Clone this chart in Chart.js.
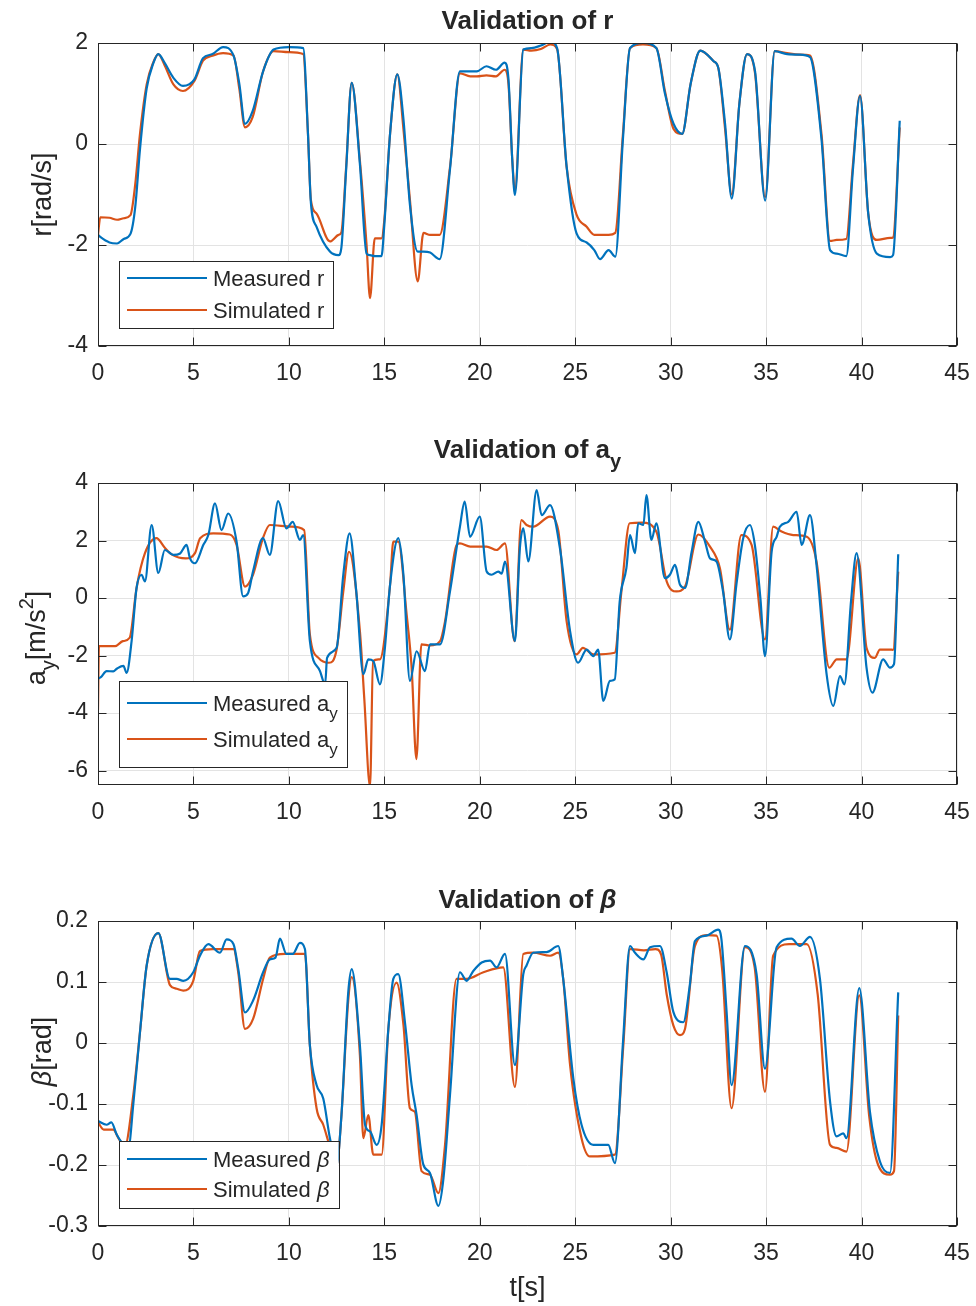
<!DOCTYPE html>
<html>
<head>
<meta charset="utf-8">
<script src="https://cdn.jsdelivr.net/npm/chart.js@4.4.1/dist/chart.umd.min.js"></script>
<style>
  html, body { margin: 0; padding: 0; background: #fff; }
  body { width: 976px; height: 1306px; position: relative; overflow: hidden; }
  canvas { position: absolute; left: 0; }
</style>
</head>
<body>
<canvas id="c1" width="976" height="400" style="top:0px"></canvas>
<canvas id="c2" width="976" height="440" style="top:400px"></canvas>
<canvas id="c3" width="976" height="466" style="top:840px"></canvas>
<script>
// ---- data ----
const xTicks = [0, 5, 10, 15, 20, 25, 30, 35, 40, 45];

// yaw rate r
const tR = [0, 0.12, 0.6, 1.0, 1.35, 1.7, 1.95, 2.2, 2.55, 2.9, 3.16, 3.5,
  3.95, 4.45, 5.05, 5.5, 6.0, 6.55, 7.1, 7.4, 7.7, 8.1, 8.65, 9.2,
  10.0, 10.75, 11.0, 11.15, 11.45, 12.15, 12.6, 12.75, 13.0, 13.29, 13.72, 14.07,
  14.25, 14.5, 14.85, 15.0, 15.3, 15.68, 16.0, 16.34, 16.75, 17.05, 17.4, 17.9, 18.44,
  18.96, 19.5, 19.85, 20.35, 20.85, 21.3, 21.5, 21.7, 21.84, 22.28, 22.7, 23.2, 23.7,
  24.05, 24.55, 25.07, 25.6, 26.0, 26.3, 26.75, 27.1, 27.5, 27.87, 28.55, 29.25, 29.7,
  30.15, 30.6, 31.05, 31.55, 32.25, 32.5, 32.85, 33.2, 33.6, 34.0, 34.42, 34.95,
  35.45, 36.1, 36.75, 37.3, 37.9, 38.35, 38.7, 39.2, 39.55, 39.92, 40.35, 40.8,
  41.5, 41.65, 42.0];
const rMeas = [-1.8, -1.84, -1.95, -1.97, -1.88, -1.78, -1.25, -0.1, 1.1, 1.6, 1.78, 1.6,
  1.31, 1.15, 1.28, 1.7, 1.78, 1.92, 1.75, 1.2, 0.4, 0.65, 1.44, 1.87,
  1.92, 1.9, 0.2, -1.15, -1.64, -2.13, -2.2, -2.05, -0.5, 1.21, -0.4, -2.17,
  -2.2, -2.22, -2.22, -1.6, 0.2, 1.38, 0.5, -1.2, -2.13, -2.13, -2.15, -2.28, -0.5,
  1.44, 1.44, 1.44, 1.54, 1.47, 1.61, 1.3, -0.3, -1.01, 1.87, 1.9, 1.95, 2.03,
  1.9, -0.45, -1.77, -1.95, -2.1, -2.28, -2.1, -2.23, 0.1, 1.9, 2.0, 1.9, 1.0,
  0.4, 0.2, 1.2, 1.85, 1.64, 1.5, 0.4, -1.08, 0.8, 1.78, 1.44, -1.12,
  1.84, 1.78, 1.77, 1.72, 0.1, -2.1, -2.17, -2.22, -0.5, 0.95, -1.38, -2.17,
  -2.24, -2.2, 0.46];
const rSim = [-1.8, -1.45, -1.46, -1.5, -1.47, -1.41, -0.8, 0.2, 1.18, 1.62, 1.78, 1.55,
  1.18, 1.05, 1.25, 1.65, 1.75, 1.8, 1.75, 1.1, 0.33, 0.53, 1.44, 1.84,
  1.82, 1.78, 0.2, -1.1, -1.38, -1.93, -1.8, -1.75, -0.45, 1.21, -0.33, -2.0,
  -3.05, -1.87, -1.87, -1.5, 0.2, 1.38, 0.3, -1.1, -2.72, -1.76, -1.8, -1.8, -0.46,
  1.4, 1.34, 1.34, 1.36, 1.34, 1.47, 1.2, -0.3, -0.92, 1.87, 1.85, 1.88, 1.97,
  1.88, -0.46, -1.4, -1.64, -1.8, -1.8, -1.8, -1.76, 0.2, 1.9, 1.97, 1.9, 1.05,
  0.3, 0.2, 1.2, 1.85, 1.64, 1.5, 0.3, -1.0, 0.8, 1.78, 1.4, -1.05,
  1.84, 1.8, 1.77, 1.75, 0.2, -1.92, -1.9, -1.88, -0.4, 0.97, -1.38, -1.9,
  -1.86, -1.85, 0.33];
const rTicks = [-4, -2, 0, 2];

// lateral acceleration a_y
const tAyMeas = [0, 0.15, 0.45, 0.8, 1.0, 1.33, 1.5, 1.76, 2.02, 2.28, 2.46, 2.81, 3.16, 3.5,
  3.95, 4.3, 4.64, 4.82, 5.08, 5.52, 5.78, 6.13, 6.47, 6.82, 7.26, 7.6, 7.86, 8.12,
  8.64, 9.0, 9.44, 9.87, 10.2, 10.58, 10.75, 11.1, 11.63, 11.9, 12.0, 12.5, 12.85,
  13.18, 13.53, 13.9, 14.16, 14.42, 14.77, 15.03, 15.3, 15.73, 16.0, 16.34, 16.69,
  17.13, 17.39, 17.92, 18.44, 18.96, 19.21, 19.49, 20.0, 20.36, 20.62, 20.97, 21.15,
  21.32, 21.84, 22.1, 22.28, 22.54, 22.98, 23.24, 23.68, 24.2, 24.73, 25.15, 25.6,
  25.95, 26.2, 26.47, 26.82, 27.07, 27.33, 27.68, 27.87, 28.13, 28.3, 28.57, 28.73,
  28.99, 29.25, 29.7, 29.96, 30.23, 30.49, 30.75, 31.1, 31.45, 31.8, 32.06, 32.4,
  32.75, 33.1, 33.45, 33.8, 34.15, 34.41, 34.7, 34.94, 35.29, 35.55, 35.72, 36.16,
  36.6, 36.86, 37.3, 37.64, 38.17, 38.52, 38.87, 39.1, 39.45, 39.74, 40.26, 40.57,
  41.13, 41.49, 41.7, 41.92];
const ayMeas = [-2.8, -2.75, -2.54, -2.55, -2.45, -2.36, -2.6, -1.5, 0.35, 0.81, 0.58, 2.54, 0.87, 1.67,
  1.5, 1.55, 1.85, 1.38, 1.21, 1.85, 2.19, 3.29, 2.36, 2.94, 1.96, 0.06, 0.17, 0.92,
  2.08, 1.5, 3.37, 2.42, 2.65, 2.02, 2.19, -1.5, -2.54, -3.0, -2.08, -1.73, 0.81,
  2.25, 0.23, -2.65, -2.13, -2.19, -3.0, -1.73, 0.46, 2.08, 0.81, -2.88, -1.85,
  -2.54, -1.61, -1.61, 0.23, 2.48, 3.35, 2.13, 2.83, 0.92, 0.81, 0.92, 0.85,
  1.27, -1.5, 1.73, 2.42, 1.27, 3.75, 2.88, 3.23, 1.73, -1.15, -2.25, -1.79,
  -2.02, -1.79, -3.58, -2.88, -2.83, -0.12, 1.04, 2.19, 1.56, 2.6, 2.54, 3.58,
  2.02, 2.6, 0.69, 0.81, 1.15, 0.46, 0.35, 1.61, 2.65, 1.96, 1.38, 1.27,
  0.2, -1.44, 0.5, 2.08, 2.54, 1.85, 0.0, -2.02, 1.61, 2.13, 2.48, 2.65,
  3.0, 1.85, 2.88, 1.15, -2.65, -3.75, -2.71, -3.0, -0.1, 1.56, -2.42, -3.29,
  -2.13, -2.42, -2.3, 1.52];
const tAySim = [0, 0.05, 0.9, 1.3, 1.66, 2.02, 2.46, 3.06, 3.5, 3.9, 4.6, 5.08, 5.35, 6.04,
  6.9, 7.26, 7.7, 8.12, 8.64, 9.0, 10.13, 10.8, 11.1, 11.55, 12.1, 12.5, 12.85, 13.15,
  13.72, 13.95, 14.25, 14.41, 14.77, 15.3, 15.47, 15.73, 16.17, 16.43, 16.68, 16.94,
  17.4, 17.92, 18.18, 18.79, 18.96, 19.5, 20.36, 20.88, 21.32, 21.82, 22.18, 22.45,
  22.8, 23.68, 24.11, 24.55, 25.07, 25.4, 25.95, 27.07, 27.42, 27.85, 28.5, 29.25,
  29.79, 30.31, 30.75, 31.45, 32.06, 32.58, 33.1, 33.7, 34.24, 34.94, 35.37, 35.81,
  36.42, 37.13, 37.64, 38.31, 38.7, 39.21, 39.83, 40.26, 40.7, 40.96, 41.49, 41.65, 41.92];
const aySim = [-3.9, -1.67, -1.67, -1.5, -1.38, 0.35, 1.56, 2.08, 1.75, 1.5, 1.38, 1.56, 2.08, 2.25,
  2.21, 1.85, 0.4, 0.81, 2.08, 2.54, 2.48, 2.36, -1.27, -2.08, -2.25, -1.79, 0.23, 1.61,
  -1.15, -3.5, -6.55, -2.19, -2.13, 0.46, 1.96, 1.96, -0.58, -2.42, -5.6, -1.61,
  -1.65, -1.5, -0.81, 1.85, 1.9, 1.79, 1.79, 1.67, 1.9, -1.5, 2.71, 2.54,
  2.48, 2.83, 2.36, -0.81, -1.96, -1.73, -1.96, -1.9, 0.23, 2.6, 2.62, 2.31,
  0.58, 0.23, 0.4, 2.21, 1.79, 1.04, -1.1, 2.19, 1.85, -1.44, 2.48, 2.31,
  2.19, 2.13, 1.27, -2.42, -2.13, -2.13, 1.38, -1.73, -2.08, -1.79, -1.79, -1.8, 0.92];
const ayTicks = [-6, -4, -2, 0, 2, 4];

// side slip angle beta
const tBetaMeas = [0, 0.45, 0.7, 0.98, 1.3, 1.6, 1.85, 2.2, 2.55, 3.16, 3.77, 4.12, 4.47,
  4.99, 5.34, 5.78, 6.39, 6.74, 7.1, 7.35, 7.7, 8.13, 8.65, 9.0, 9.3, 9.53, 9.87,
  10.2, 10.58, 10.84, 11.1, 11.45, 11.8, 12.15, 12.5, 12.75, 13.11, 13.29, 13.72,
  13.99, 14.25, 14.6, 14.86, 15.21, 15.47, 15.73, 16.08, 16.43, 16.69, 17.04, 17.39,
  17.83, 18.1, 18.44, 18.96, 19.31, 19.66, 20.1, 20.54, 20.88, 21.32, 21.84, 22.28,
  22.45, 22.8, 23.5, 24.11, 24.37, 24.9, 25.33, 25.95, 26.73, 27.08, 27.5, 27.87,
  28.13, 28.57, 28.92, 29.44, 29.79, 30.14, 30.66, 31.0, 31.27, 31.88, 32.49, 32.66,
  32.93, 33.19, 33.89, 34.5, 34.94, 35.55, 36.33, 36.77, 37.3, 37.82, 38.35, 38.69,
  39.04, 39.21, 39.88, 40.44, 40.96, 41.49, 41.92];
const betaMeas = [-0.128, -0.134, -0.13, -0.15, -0.165, -0.17, -0.1, 0.018, 0.127, 0.18, 0.105, 0.105, 0.102,
  0.116, 0.143, 0.162, 0.148, 0.17, 0.162, 0.121, 0.05, 0.07, 0.116, 0.137, 0.14, 0.171, 0.146,
  0.146, 0.164, 0.154, -0.004, -0.069, -0.091, -0.156, -0.2, -0.12, 0.083, 0.121, -0.004,
  -0.134, -0.145, -0.167, -0.134, 0.023, 0.105, 0.113, 0.034, -0.069, -0.118, -0.199, -0.213,
  -0.267, -0.221, -0.085, 0.116, 0.102, 0.118, 0.132, 0.135, 0.124, 0.146, -0.036, 0.113,
  0.127, 0.148, 0.149, 0.159, 0.105, -0.058, -0.134, -0.167, -0.167, -0.197, 0.0, 0.159,
  0.148, 0.137, 0.157, 0.159, 0.116, 0.051, 0.034, 0.094, 0.167, 0.176, 0.186, 0.17,
  0.051, -0.069, 0.159, 0.113, -0.042, 0.157, 0.171, 0.159, 0.174, 0.105, -0.096, -0.153,
  -0.148, -0.156, 0.09, -0.113, -0.194, -0.213, 0.083];
const tBetaSim = [0, 0.3, 0.8, 1.07, 1.4, 1.85, 2.2, 2.55, 3.16, 3.77, 4.12, 4.47, 4.99,
  5.34, 6.0, 7.1, 7.35, 7.7, 8.13, 8.65, 9.0, 9.8, 10.84, 11.1, 11.45, 11.8, 12.15,
  12.5, 12.75, 13.11, 13.29, 13.72, 13.9, 14.16, 14.42, 14.86, 15.21, 15.64, 16.0,
  16.34, 16.6, 16.95, 17.39, 17.83, 18.18, 18.78, 19.31, 20.19, 21.23, 21.84, 22.28,
  22.8, 23.68, 24.11, 24.37, 24.73, 25.33, 25.77, 27.08, 27.52, 27.87, 28.6, 29.2,
  29.5, 29.79, 30.14, 30.49, 30.75, 31.27, 31.88, 32.4, 32.7, 33.19, 33.89, 34.4,
  34.94, 35.37, 36.2, 37.13, 37.7, 38.35, 38.69, 39.21, 39.88, 40.4, 40.87, 41.49,
  41.7, 41.92];
const betaSim = [-0.13, -0.142, -0.142, -0.156, -0.17, -0.085, 0.018, 0.127, 0.18, 0.095, 0.089, 0.086, 0.102,
  0.151, 0.154, 0.154, 0.115, 0.023, 0.04, 0.105, 0.14, 0.146, 0.146, -0.004, -0.107, -0.134, -0.17,
  -0.2, -0.12, 0.07, 0.108, -0.02, -0.156, -0.118, -0.183, -0.183, 0.023, 0.099, 0.03,
  -0.107, -0.113, -0.21, -0.216, -0.246, -0.167, 0.105, 0.105, 0.116, 0.124, -0.072, 0.146,
  0.148, 0.143, 0.148, 0.105, -0.036, -0.156, -0.186, -0.183, -0.004, 0.154, 0.152, 0.154,
  0.145, 0.08, 0.029, 0.013, 0.023, 0.159, 0.177, 0.176, 0.12, -0.107, 0.157, 0.124,
  -0.08, 0.143, 0.162, 0.162, 0.08, -0.167, -0.172, -0.178, 0.078, -0.12, -0.2, -0.216,
  -0.21, 0.045];
const betaTicks = [-0.3, -0.2, -0.1, 0, 0.1, 0.2];

// ---- styling ----
const FONT = '"Liberation Sans", Arial, Helvetica, sans-serif';
const BLUE = '#0072BD';
const ORANGE = '#D95319';
const INK = '#262626';
const TICK_SIZE = 23, TITLE_SIZE = 26, LABEL_SIZE = 27, LEGEND_SIZE = 22;

const pts = (ts, ys) => ts.map((t, i) => ({ x: t, y: ys[i] }));

// draw a run of text pieces: [text, kind], kind = '' | 'sub' | 'sup' | 'it'
function drawRich(ctx, segs, x, y, size, bold, align, color) {
  const parts = segs.map(([s, k]) => {
    const small = k === 'sub' || k === 'sup';
    const fs = small ? Math.round(size * 0.75) : size;
    const font = (k === 'it' ? 'italic ' : '') + (bold ? 'bold ' : '') + fs + 'px ' + FONT;
    ctx.font = font;
    return { s, k, font, w: ctx.measureText(s).width };
  });
  const total = parts.reduce((a, p) => a + p.w, 0);
  let cx = align === 'center' ? x - total / 2 : x;
  ctx.textAlign = 'left';
  ctx.textBaseline = 'alphabetic';
  ctx.fillStyle = color || INK;
  for (const p of parts) {
    ctx.font = p.font;
    const dy = p.k === 'sub' ? size * 0.38 : p.k === 'sup' ? -size * 0.45 : 0;
    ctx.fillText(p.s, cx, y + dy);
    cx += p.w;
  }
  return total;
}

function richWidth(ctx, segs, size) {
  return segs.reduce((w, [s, k]) => {
    const fs = (k === 'sub' || k === 'sup') ? Math.round(size * 0.75) : size;
    ctx.font = (k === 'it' ? 'italic ' : '') + fs + 'px ' + FONT;
    return w + ctx.measureText(s).width;
  }, 0);
}

const frame = {
  id: 'frame',
  afterDatasetsDraw(chart, args, o) {
    const { ctx, chartArea: a, scales } = chart;
    ctx.save();
    ctx.strokeStyle = INK;
    ctx.lineWidth = 1;
    const L = Math.round(a.left) + 0.5, R = Math.round(a.right) - 0.5;
    const T = Math.round(a.top) + 0.5, B = Math.round(a.bottom) - 0.5;
    ctx.beginPath();
    scales.x.ticks.forEach(t => {
      const px = Math.round(scales.x.getPixelForValue(t.value)) + 0.5;
      ctx.moveTo(px, B); ctx.lineTo(px, B - 8);
      ctx.moveTo(px, T); ctx.lineTo(px, T + 8);
    });
    scales.y.ticks.forEach(t => {
      const py = Math.round(scales.y.getPixelForValue(t.value)) + 0.5;
      ctx.moveTo(L, py); ctx.lineTo(L + 8, py);
      ctx.moveTo(R, py); ctx.lineTo(R - 8, py);
    });
    ctx.stroke();
    ctx.strokeRect(L, T, R - L, B - T);

    // legend box
    const lg = o.legend;
    const bx = a.left + 21, by = a.bottom - 18 - lg.h;
    const tx = bx + 94;
    const maxW = Math.max(...lg.items.map(it => richWidth(ctx, it.segs, LEGEND_SIZE)));
    const bw = tx + maxW + 9 - bx;
    ctx.fillStyle = '#fff';
    ctx.fillRect(bx, by, bw, lg.h);
    ctx.strokeRect(Math.round(bx) + 0.5, Math.round(by) + 0.5, Math.round(bw), Math.round(lg.h));
    lg.items.forEach((it, i) => {
      const ry = by + lg.rows[i];
      ctx.strokeStyle = it.color;
      ctx.lineWidth = 2;
      ctx.beginPath();
      ctx.moveTo(bx + 8, ry); ctx.lineTo(bx + 88, ry);
      ctx.stroke();
      drawRich(ctx, it.segs, tx, ry + 8, LEGEND_SIZE, false, 'left');
    });

    // title
    drawRich(ctx, o.title, (a.left + a.right) / 2, a.top - o.titleGap, TITLE_SIZE, true, 'center');
    // y label
    ctx.save();
    ctx.translate(o.yLabelX, (a.top + a.bottom) / 2 + (o.yLabelDy || 0));
    ctx.rotate(-Math.PI / 2);
    drawRich(ctx, o.yLabel, 0, 0, LABEL_SIZE, false, 'center');
    ctx.restore();
    // x label
    if (o.xLabel) drawRich(ctx, o.xLabel, (a.left + a.right) / 2, a.bottom + o.xLabelGap, LABEL_SIZE, false, 'center');
    ctx.restore();
  }
};

function makeChart(id, cfg) {
  return new Chart(document.getElementById(id), {
    type: 'line',
    data: {
      datasets: [
        { label: 'Measured', data: cfg.meas, borderColor: BLUE },
        { label: 'Simulated', data: cfg.sim, borderColor: ORANGE }
      ]
    },
    options: {
      responsive: false,
      animation: false,
      events: [],
      layout: { padding: { top: cfg.padTop, right: 19, left: 0, bottom: 0 } },
      elements: {
        line: { borderWidth: 2.2, cubicInterpolationMode: 'monotone', fill: false },
        point: { radius: 0 }
      },
      scales: {
        x: {
          type: 'linear', min: 0, max: 45,
          afterBuildTicks: s => { s.ticks = xTicks.map(v => ({ value: v })); },
          afterFit: s => { s.height = cfg.xAxisH; s.paddingLeft = 0; s.paddingRight = 0; },
          grid: { color: '#e3e3e3', drawTicks: false },
          border: { display: false },
          ticks: { color: INK, font: { family: FONT, size: TICK_SIZE }, padding: 14, maxRotation: 0, autoSkip: false }
        },
        y: {
          type: 'linear', min: cfg.yMin, max: cfg.yMax,
          afterBuildTicks: s => { s.ticks = cfg.yTicks.map(v => ({ value: v })); },
          afterFit: s => { s.width = 98; s.paddingTop = 0; s.paddingBottom = 0; },
          grid: { color: '#e3e3e3', drawTicks: false },
          border: { display: false },
          ticks: {
            color: INK, font: { family: FONT, size: TICK_SIZE }, padding: 10, autoSkip: false,
            callback: v => String(Math.round(v * 10) / 10)
          }
        }
      },
      plugins: {
        legend: { display: false },
        tooltip: { enabled: false },
        frame: cfg.frame
      }
    },
    plugins: [frame]
  });
}

makeChart('c1', {
  meas: pts(tR, rMeas), sim: pts(tR, rSim),
  yMin: -4, yMax: 2, yTicks: rTicks, padTop: 43, xAxisH: 54,
  frame: {
    title: [['Validation of r', '']], titleGap: 14,
    yLabel: [['r[rad/s]', '']], yLabelX: 51,
    legend: {
      h: 67, rows: [17, 49],
      items: [
        { color: BLUE, segs: [['Measured r', '']] },
        { color: ORANGE, segs: [['Simulated r', '']] }
      ]
    }
  }
});

makeChart('c2', {
  meas: pts(tAyMeas, ayMeas), sim: pts(tAySim, aySim),
  yMin: -6.5, yMax: 4, yTicks: ayTicks, padTop: 83, xAxisH: 55,
  frame: {
    title: [['Validation of a', ''], ['y', 'sub']], titleGap: 25,
    yLabel: [['a', ''], ['y', 'sub'], ['[m/s', ''], ['2', 'sup'], [']', '']], yLabelX: 45, yLabelDy: 4,
    legend: {
      h: 86, rows: [22, 58],
      items: [
        { color: BLUE, segs: [['Measured a', ''], ['y', 'sub']] },
        { color: ORANGE, segs: [['Simulated a', ''], ['y', 'sub']] }
      ]
    }
  }
});

makeChart('c3', {
  meas: pts(tBetaMeas, betaMeas), sim: pts(tBetaSim, betaSim),
  yMin: -0.3, yMax: 0.2, yTicks: betaTicks, padTop: 81, xAxisH: 80,
  frame: {
    title: [['Validation of ', ''], ['β', 'it']], titleGap: 13,
    yLabel: [['β', 'it'], ['[rad]', '']], yLabelX: 51, yLabelDy: -22,
    xLabel: [['t[s]', '']], xLabelGap: 70,
    legend: {
      h: 67, rows: [18, 48],
      items: [
        { color: BLUE, segs: [['Measured ', ''], ['β', 'it']] },
        { color: ORANGE, segs: [['Simulated ', ''], ['β', 'it']] }
      ]
    }
  }
});
</script>
</body>
</html>
